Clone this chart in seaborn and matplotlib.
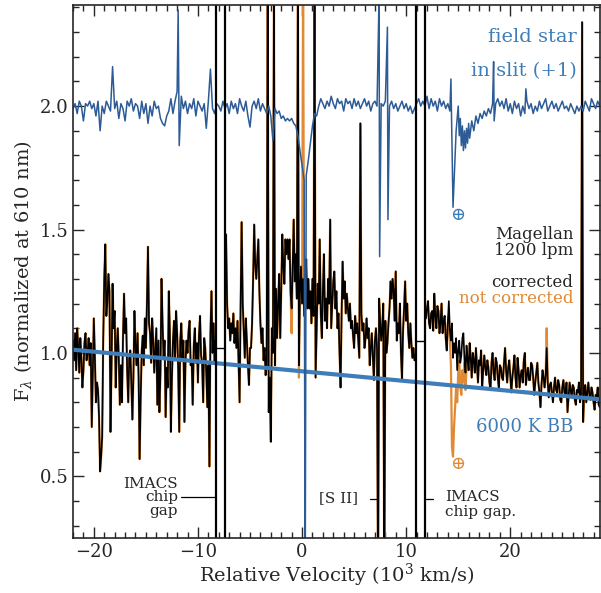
import matplotlib
matplotlib.use("Agg")
import matplotlib.pyplot as plt
import matplotlib.ticker as mticker
import seaborn as sns
import pandas as pd

# --- espectro corrigido (preto), em 10^3 km/s e fluxo normalizado ---
# trecho A: antes da primeira lacuna do IMACS
vel_a = [-22.0, -21.9, -21.8, -21.7, -21.6, -21.5, -21.4, -21.3, -21.2, -21.1,
         -21.0, -20.9, -20.8, -20.7, -20.6, -20.5, -20.4, -20.3, -20.2, -20.1,
         -20.0, -19.9, -19.8, -19.7, -19.6, -19.5, -19.4, -19.3, -19.2, -19.1,
         -19.0, -18.9, -18.8, -18.7, -18.6, -18.5, -18.4, -18.3, -18.2, -18.1,
         -18.0, -17.9, -17.8, -17.7, -17.6, -17.5, -17.4, -17.3, -17.2, -17.1,
         -17.0, -16.9, -16.8, -16.7, -16.6, -16.5, -16.4, -16.3, -16.2, -16.1,
         -16.0, -15.9, -15.8, -15.7, -15.6, -15.5, -15.4, -15.3, -15.2, -15.1,
         -15.0, -14.9, -14.8, -14.7, -14.6, -14.5, -14.4, -14.3, -14.2, -14.1,
         -14.0, -13.9, -13.8, -13.7, -13.6, -13.5, -13.4, -13.3, -13.2, -13.1,
         -13.0, -12.9, -12.8, -12.7, -12.6, -12.5, -12.4, -12.3, -12.2, -12.1,
         -12.0, -11.9, -11.8, -11.7, -11.6, -11.5, -11.4, -11.3, -11.2, -11.1,
         -11.0, -10.9, -10.8, -10.7, -10.6, -10.5, -10.4, -10.3, -10.2, -10.1,
         -10.0, -9.9, -9.8, -9.7, -9.6, -9.5, -9.4, -9.3, -9.2, -9.1,
         -9.0, -8.9, -8.8, -8.7, -8.6, -8.5, -8.4, -8.3]
flux_a = [1.05, 0.97, 1.08, 0.93, 1.10, 1.02, 0.92, 1.06, 0.98, 0.86,
          0.93, 1.04, 1.08, 0.97, 1.00, 1.06, 0.95, 1.04, 0.70, 0.92,
          1.14, 0.98, 0.80, 0.88, 0.85, 0.74, 0.52, 0.58, 0.66, 1.05,
          1.30, 1.44, 1.15, 1.21, 1.32, 1.25, 0.68, 0.95, 1.28, 1.10,
          1.17, 0.86, 1.02, 1.10, 0.97, 0.79, 0.95, 0.80, 1.06, 1.24,
          1.08, 1.14, 0.93, 0.80, 0.98, 1.01, 0.88, 0.73, 0.90, 1.17,
          1.03, 0.95, 1.08, 0.90, 0.57, 0.82, 1.01, 1.07, 0.95, 1.14,
          1.02, 1.20, 1.43, 1.12, 1.08, 0.96, 1.14, 1.05, 0.92, 1.01,
          1.10, 0.79, 1.05, 0.76, 0.92, 1.30, 1.12, 0.98, 1.05, 0.74,
          0.94, 0.86, 1.25, 1.09, 0.68, 0.90, 1.05, 1.13, 0.97, 1.17,
          1.08, 0.94, 0.68, 1.05, 1.12, 0.98, 1.05, 0.72, 0.96, 1.05,
          1.00, 1.09, 1.13, 0.95, 0.97, 0.79, 1.03, 1.10, 0.96, 1.04,
          0.88, 1.07, 1.15, 0.99, 0.96, 0.80, 1.06, 1.02, 0.92, 0.78,
          0.95, 0.54, 1.08, 1.25, 1.00, 1.12, 0.96, 1.05]

# trecho B: entre as duas lacunas (inclui [S II] e raios cósmicos)
vel_b = [-7.3, -7.2, -7.1, -7.0, -6.9, -6.8, -6.7, -6.6, -6.5, -6.4,
         -6.3, -6.2, -6.1, -6.0, -5.9, -5.8, -5.7, -5.6, -5.5, -5.4,
         -5.3, -5.2, -5.1, -5.0, -4.9, -4.8, -4.7, -4.6, -4.5, -4.4,
         -4.3, -4.2, -4.1, -4.0, -3.9, -3.8, -3.7, -3.6, -3.5, -3.4,
         -3.3, -3.2, -3.1, -3.0, -2.9, -2.8, -2.7, -2.6, -2.5, -2.4,
         -2.3, -2.2, -2.1, -2.0, -1.9, -1.8, -1.7, -1.6, -1.5, -1.4,
         -1.3, -1.2, -1.1, -1.0, -0.9, -0.8, -0.7, -0.6, -0.5, -0.4,
         -0.3, -0.2, -0.1, 0.0, 0.1, 0.2, 0.3, 0.4, 0.5, 0.6,
         0.7, 0.8, 0.9, 1.0, 1.1, 1.2, 1.3, 1.4, 1.5, 1.6,
         1.7, 1.8, 1.9, 2.0, 2.1, 2.2, 2.3, 2.4, 2.5, 2.6,
         2.7, 2.8, 2.9, 3.0, 3.1, 3.2, 3.3, 3.4, 3.5, 3.6,
         3.7, 3.8, 3.9, 4.0, 4.1, 4.2, 4.3, 4.4, 4.5, 4.6,
         4.7, 4.8, 4.9, 5.0, 5.1, 5.2, 5.3, 5.4, 5.5, 5.6,
         5.7, 5.8, 5.9, 6.0, 6.1, 6.2, 6.3, 6.4, 6.5, 6.6,
         6.7, 6.8, 6.9, 7.0, 7.1, 7.2, 7.3, 7.4, 7.5, 7.6,
         7.7, 7.8, 7.9, 8.0, 8.1, 8.2, 8.3, 8.4, 8.5, 8.6,
         8.7, 8.8, 8.9, 9.0, 9.1, 9.2, 9.3, 9.4, 9.5, 9.6,
         9.7, 9.8, 9.9, 10.0, 10.1, 10.2, 10.3, 10.4, 10.5, 10.6,
         10.7, 10.8]
flux_b = [1.48, 1.20, 1.10, 1.14, 1.05, 1.12, 1.08, 1.16, 1.04, 1.10,
          1.02, 1.13, 0.96, 0.80, 1.20, 1.53, 1.20, 1.09, 0.98, 1.14,
          1.05, 0.95, 0.87, 1.02, 1.02, 1.12, 1.30, 1.52, 1.36, 1.30,
          1.38, 1.46, 1.25, 1.12, 1.04, 1.10, 0.97, 1.02, 0.91, 0.95,
          2.50, 0.76, 0.90, 0.64, 1.10, 1.00, 2.50, 0.95, 1.26, 1.06,
          1.20, 1.32, 1.06, 1.25, 1.48, 1.35, 1.28, 1.46, 1.40, 1.46,
          1.38, 1.46, 1.24, 1.18, 1.35, 1.54, 1.29, 1.40, 1.22, 2.50,
          0.95, 1.25, 1.35, 1.20, 1.30, 1.15, 1.28, 1.38, 1.18, 1.30,
          1.18, 1.25, 1.12, 1.30, 1.15, 2.50, 0.90, 1.10, 1.28, 1.20,
          1.46, 1.16, 1.06, 1.25, 1.40, 1.13, 1.22, 1.10, 1.30, 1.20,
          1.54, 1.10, 1.20, 1.29, 1.33, 1.18, 1.25, 1.10, 1.16, 1.00,
          0.86, 1.16, 1.37, 1.22, 1.29, 1.16, 1.24, 1.18, 1.13, 1.20,
          1.10, 1.13, 1.07, 1.02, 1.15, 1.08, 1.12, 1.05, 0.98, 1.93,
          1.16, 1.09, 1.12, 1.02, 1.06, 1.14, 1.06, 1.10, 0.95, 1.02,
          1.08, 0.98, 0.89, 1.05, 1.10, 1.02, 0.00, 1.22, 1.13, 1.05,
          1.10, 1.20, 0.00, 1.13, 1.00, 1.04, 1.12, 1.18, 1.29, 1.22,
          1.30, 1.25, 1.13, 1.33, 1.05, 1.12, 1.08, 1.20, 1.00, 0.89,
          1.09, 1.18, 1.29, 1.13, 1.20, 1.08, 1.02, 1.12, 1.04, 0.98,
          1.02, 0.97]

# trecho C: depois da segunda lacuna
vel_c = [11.9, 12.0, 12.1, 12.2, 12.3, 12.4, 12.5, 12.6, 12.7, 12.8,
         12.9, 13.0, 13.1, 13.2, 13.3, 13.4, 13.5, 13.6, 13.7, 13.8,
         13.9, 14.0, 14.1, 14.2, 14.3, 14.4, 14.5, 14.6, 14.7, 14.8,
         14.9, 15.0, 15.1, 15.2, 15.3, 15.4, 15.5, 15.6, 15.7, 15.8,
         15.9, 16.0, 16.1, 16.2, 16.3, 16.4, 16.5, 16.6, 16.7, 16.8,
         16.9, 17.0, 17.1, 17.2, 17.3, 17.4, 17.5, 17.6, 17.7, 17.8,
         17.9, 18.0, 18.1, 18.2, 18.3, 18.4, 18.5, 18.6, 18.7, 18.8,
         18.9, 19.0, 19.1, 19.2, 19.3, 19.4, 19.5, 19.6, 19.7, 19.8,
         19.9, 20.0, 20.1, 20.2, 20.3, 20.4, 20.5, 20.6, 20.7, 20.8,
         20.9, 21.0, 21.1, 21.2, 21.3, 21.4, 21.5, 21.6, 21.7, 21.8,
         21.9, 22.0, 22.1, 22.2, 22.3, 22.4, 22.5, 22.6, 22.7, 22.8,
         22.9, 23.0, 23.1, 23.2, 23.3, 23.4, 23.5, 23.6, 23.7, 23.8,
         23.9, 24.0, 24.1, 24.2, 24.3, 24.4, 24.5, 24.6, 24.7, 24.8,
         24.9, 25.0, 25.1, 25.2, 25.3, 25.4, 25.5, 25.6, 25.7, 25.8,
         25.9, 26.0, 26.1, 26.2, 26.3, 26.4, 26.5, 26.6, 26.7, 26.8,
         26.9, 27.0, 27.1, 27.2, 27.3, 27.4, 27.5, 27.6, 27.7, 27.8,
         27.9, 28.0, 28.1, 28.2, 28.3, 28.4, 28.5, 28.6]
flux_c = [1.14, 1.18, 1.21, 1.12, 1.10, 1.16, 1.17, 1.09, 1.24, 1.15,
          1.10, 1.19, 1.17, 1.08, 1.12, 1.20, 1.08, 1.13, 1.15, 1.06,
          1.01, 1.12, 1.21, 1.09, 1.05, 1.12, 0.98, 1.04, 1.00, 1.06,
          0.93, 1.01, 1.05, 0.96, 0.99, 1.06, 1.08, 0.97, 0.92, 1.03,
          0.97, 0.93, 1.04, 0.98, 0.90, 1.00, 0.97, 0.92, 1.02, 0.95,
          0.88, 0.97, 0.95, 1.01, 0.86, 0.93, 0.99, 0.94, 0.91, 0.97,
          0.94, 0.88, 0.85, 0.96, 1.00, 0.92, 0.89, 0.98, 0.96, 0.90,
          0.86, 0.95, 0.94, 0.90, 0.89, 0.96, 1.02, 0.93, 0.88, 0.94,
          0.97, 0.91, 0.84, 0.90, 0.94, 0.99, 0.90, 0.86, 0.98, 0.93,
          0.86, 0.91, 0.93, 0.88, 0.97, 1.00, 0.87, 0.91, 0.94, 0.89,
          0.89, 0.96, 0.95, 0.90, 0.83, 0.88, 0.92, 0.96, 0.88, 0.84,
          0.78, 0.87, 0.93, 0.90, 0.86, 0.91, 1.02, 0.88, 0.82, 0.87,
          0.88, 0.84, 0.80, 0.86, 0.90, 0.85, 0.84, 0.89, 0.87, 0.81,
          0.80, 0.86, 0.89, 0.84, 0.83, 0.88, 0.76, 0.82, 0.88, 0.85,
          0.82, 0.87, 0.86, 0.81, 0.79, 0.85, 0.84, 0.88, 0.80, 0.83,
          2.34, 0.72, 0.85, 0.87, 0.80, 0.84, 0.88, 0.83, 0.81, 0.86,
          0.84, 0.80, 0.77, 0.83, 0.82, 0.86, 0.79, 0.78]

# onde o espectro sem correção telúrica (laranja) difere do corrigido
tell_vel = [-1.0, -0.3, 0.1, 14.1, 14.2, 14.3, 14.4, 14.5, 14.6, 14.7,
            14.8, 14.9, 15.0, 15.1, 15.2, 15.3, 15.4, 15.5, 15.6, 15.7,
            15.8, 23.5]
tell_flux = [1.08, 0.90, 2.50, 1.15, 1.05, 0.95, 0.62, 0.58, 0.70, 0.78,
             0.86, 0.80, 0.92, 0.97, 0.86, 0.83, 0.93, 0.88, 0.96, 0.85,
             0.94, 1.10]

# --- estrela de campo na fenda (deslocada +1) ---
star_vel = [-22.0, -21.8, -21.6, -21.4, -21.2, -21.0, -20.8, -20.6, -20.4, -20.2,
            -20.0, -19.8, -19.6, -19.4, -19.2, -19.0, -18.8, -18.6, -18.4, -18.2,
            -18.0, -17.8, -17.6, -17.4, -17.2, -17.0, -16.8, -16.6, -16.4, -16.2,
            -16.0, -15.8, -15.6, -15.4, -15.2, -15.0, -14.8, -14.6, -14.4, -14.2,
            -14.0, -13.8, -13.6, -13.4, -13.2, -13.0, -12.8, -12.6, -12.4, -12.2,
            -12.0, -11.9, -11.8, -11.6, -11.4, -11.2, -11.0, -10.8, -10.6, -10.4,
            -10.2, -10.0, -9.8, -9.6, -9.4, -9.2, -9.0, -8.8, -8.6, -8.4,
            -8.2, -8.0, -7.8, -7.6, -7.4, -7.2, -7.0, -6.8, -6.6, -6.4,
            -6.2, -6.0, -5.8, -5.6, -5.4, -5.2, -5.0, -4.8, -4.6, -4.4,
            -4.2, -4.0, -3.8, -3.6, -3.4, -3.2, -3.0, -2.8, -2.6, -2.4,
            -2.2, -2.0, -1.8, -1.6, -1.4, -1.2, -1.0, -0.8, -0.6, -0.4,
            -0.2, 0.0, 0.2, 0.3, 0.4, 0.6, 0.8, 1.0, 1.2, 1.4,
            1.6, 1.8, 2.0, 2.2, 2.4, 2.6, 2.8, 3.0, 3.2, 3.4,
            3.6, 3.8, 4.0, 4.2, 4.4, 4.6, 4.8, 5.0, 5.2, 5.4,
            5.6, 5.8, 6.0, 6.2, 6.4, 6.6, 6.8, 7.0, 7.2, 7.4,
            7.45, 7.6, 7.8, 8.0, 8.2, 8.25, 8.4, 8.6, 8.8, 9.0,
            9.2, 9.4, 9.6, 9.8, 10.0, 10.2, 10.4, 10.6, 10.8, 11.0,
            11.2, 11.4, 11.6, 11.8, 12.0, 12.2, 12.4, 12.6, 12.8, 13.0,
            13.2, 13.4, 13.6, 13.8, 14.0, 14.2, 14.3, 14.5, 14.8, 15.0,
            15.1, 15.2, 15.3, 15.4, 15.5, 15.6, 15.7, 15.8, 15.9, 16.0,
            16.1, 16.3, 16.5, 16.7, 16.9, 17.1, 17.3, 17.5, 17.7, 17.9,
            18.1, 18.3, 18.4, 18.45, 18.6, 18.8, 19.0, 19.2, 19.4, 19.6,
            19.8, 20.0, 20.2, 20.4, 20.6, 20.8, 21.0, 21.2, 21.4, 21.5,
            21.6, 21.8, 22.0, 22.2, 22.4, 22.6, 22.8, 23.0, 23.2, 23.4,
            23.6, 23.8, 24.0, 24.2, 24.4, 24.6, 24.8, 25.0, 25.2, 25.4,
            25.6, 25.8, 26.0, 26.2, 26.4, 26.6, 26.8, 27.0, 27.2, 27.4,
            27.6, 27.8, 28.0, 28.2, 28.4, 28.6]
star_flux = [1.99, 2.01, 1.97, 2.02, 2.00, 1.94, 2.01, 2.00, 2.02, 1.99,
             2.01, 1.96, 2.02, 1.90, 2.00, 1.97, 2.02, 2.00, 1.98, 2.16,
             1.99, 2.02, 1.95, 2.01, 1.99, 1.94, 2.02, 2.00, 2.03, 1.98,
             2.01, 2.00, 1.95, 2.02, 1.97, 2.01, 1.93, 2.00, 1.96, 2.02,
             1.99, 2.00, 1.95, 1.93, 1.92, 1.96, 1.98, 2.03, 1.97, 2.02,
             2.06, 2.39, 1.84, 2.04, 1.99, 2.02, 1.97, 2.01, 1.99, 2.03,
             1.96, 2.02, 2.00, 1.98, 2.01, 1.91, 2.02, 2.15, 1.99, 1.97,
             2.01, 2.00, 1.98, 2.02, 1.99, 2.01, 1.97, 2.02, 1.99, 2.01,
             1.97, 2.03, 2.00, 1.98, 2.02, 1.96, 1.915, 2.00, 2.02, 1.99,
             2.03, 1.98, 2.01, 1.99, 1.97, 2.00, 1.96, 1.86, 1.99, 1.97,
             1.98, 1.95, 1.96, 1.94, 1.95, 1.94, 1.95, 1.93, 1.92, 1.88,
             1.82, 1.76, 1.70, 0.00, 1.72, 1.78, 1.85, 1.92, 1.97, 1.96,
             2.00, 2.03, 2.01, 1.99, 2.02, 2.00, 2.04, 2.01, 1.99, 2.03,
             2.01, 2.02, 1.98, 2.03, 2.01, 2.02, 1.99, 2.03, 2.00, 2.02,
             1.99, 2.01, 2.03, 2.00, 2.02, 1.98, 2.01, 2.02, 2.00, 2.45,
             1.39, 2.01, 2.00, 2.02, 2.32, 1.54, 2.00, 2.02, 1.99, 2.01,
             1.98, 2.00, 2.02, 1.99, 2.01, 1.98, 2.00, 1.97, 1.99, 2.01,
             2.03, 2.00, 2.02, 2.00, 2.04, 1.99, 2.03, 2.00, 2.02, 1.98,
             2.03, 2.00, 2.02, 1.99, 2.01, 1.98, 2.11, 1.59, 1.90, 2.00,
             1.88, 1.95, 1.84, 1.92, 1.82, 1.90, 1.83, 1.91, 1.85, 1.93,
             1.87, 1.94, 1.90, 1.96, 1.93, 1.97, 1.95, 1.98, 1.96, 1.99,
             1.97, 2.01, 2.18, 1.94, 2.01, 2.03, 2.00, 2.02, 1.99, 2.03,
             1.98, 2.01, 1.97, 2.02, 1.99, 2.01, 1.96, 2.00, 1.97, 2.07,
             2.02, 1.99, 2.01, 1.97, 2.00, 1.98, 2.02, 1.99, 2.01, 2.03,
             1.98, 2.00, 2.02, 1.99, 2.01, 1.98, 2.00, 2.02, 1.99, 2.00,
             1.98, 2.01, 1.99, 1.97, 2.00, 1.98, 2.00, 1.98, 2.02, 2.00,
             1.98, 2.03, 2.01, 1.99, 2.02, 2.00]

# corpo negro 6000 K (quase uma reta neste intervalo)
bb_vel = [-22.0, 28.6]
bb_flux = [1.013, 0.812]

# lacunas entre chips do IMACS: (borda esq., borda dir., altura do traço)
gap_edges = [(-8.27, -7.40, 1.02), (10.96, 11.83, 1.05)]

BLUE_STAR = "#2d5b95"
BLUE_BB = "#3f7db8"
ORANGE = "#e08a35"

spec = pd.DataFrame({"vel": vel_a + vel_b + vel_c, "flux": flux_a + flux_b + flux_c})
spec["seg"] = [0] * len(vel_a) + [1] * len(vel_b) + [2] * len(vel_c)
tell = dict(zip(tell_vel, tell_flux))
spec["flux_raw"] = [tell.get(v, f) for v, f in zip(spec["vel"], spec["flux"])]
star = pd.DataFrame({"vel": star_vel, "flux": star_flux})

sns.set_style("ticks")
plt.rcParams["font.family"] = ["DejaVu Serif", "DejaVu Sans"]
plt.rcParams["mathtext.fontset"] = "dejavuserif"

fig = plt.figure(figsize=(6.01, 5.93), dpi=100)
ax = fig.add_axes([0.1215, 0.0927, 0.8765, 0.899])

for s in range(3):
    d = spec[spec["seg"] == s]
    sns.lineplot(data=d, x="vel", y="flux_raw", ax=ax, color=ORANGE, lw=1.6,
                 sort=False, estimator=None)
    sns.lineplot(data=d, x="vel", y="flux", ax=ax, color="black", lw=1.2,
                 sort=False, estimator=None)

sns.lineplot(x=bb_vel, y=bb_flux, ax=ax, color=BLUE_BB, lw=3.0, sort=False, estimator=None)
sns.lineplot(data=star, x="vel", y="flux", ax=ax, color=BLUE_STAR, lw=1.1,
             sort=False, estimator=None)

for x0, x1, yh in gap_edges:
    ax.axvline(x0, color="black", lw=1.6)
    ax.axvline(x1, color="black", lw=1.6)
    ax.plot([x0, x1], [yh, yh], color="black", lw=1.0)

# anotações
fs = 11
ax.text(-11.9, 0.415, "IMACS\nchip\ngap", ha="right", va="center", fontsize=fs,
        linespacing=0.95)
ax.plot([-11.6, -8.27], [0.415, 0.415], color="black", lw=0.9)
ax.text(5.4, 0.41, "[S II]", ha="right", va="center", fontsize=fs)
ax.plot([6.5, 7.2], [0.41, 0.41], color="black", lw=0.9)
ax.plot([11.9, 12.6], [0.41, 0.41], color="black", lw=0.9)
ax.text(13.75, 0.415, "IMACS", ha="left", va="center", fontsize=fs)
ax.text(13.75, 0.355, "chip gap.", ha="left", va="center", fontsize=fs)

ax.text(26.4, 2.28, "field star", ha="right", va="center", fontsize=14, color=BLUE_BB)
ax.text(26.4, 2.14, "in slit (+1)", ha="right", va="center", fontsize=14, color=BLUE_BB)
ax.text(26.05, 1.48, "Magellan", ha="right", va="center", fontsize=12)
ax.text(26.05, 1.415, "1200 lpm", ha="right", va="center", fontsize=12)
ax.text(26.05, 1.285, "corrected", ha="right", va="center", fontsize=12)
ax.text(26.05, 1.22, "not corrected", ha="right", va="center", fontsize=12, color=ORANGE)
ax.text(26.05, 0.70, "6000 K BB", ha="right", va="center", fontsize=13, color=BLUE_BB)
ax.text(14.9, 1.56, "\u2295", ha="center", va="center", fontsize=13, color=BLUE_BB)
ax.text(14.9, 0.55, "\u2295", ha="center", va="center", fontsize=13, color=ORANGE)

ax.set_xlim(-22.0, 28.6)
ax.set_ylim(0.25, 2.41)
ax.set_xlabel("Relative Velocity (10$^3$ km/s)", fontsize=14, labelpad=1)
ax.set_ylabel("F$_\\lambda$ (normalized at 610 nm)", fontsize=14, labelpad=4)
ax.xaxis.set_major_locator(mticker.MultipleLocator(10))
ax.xaxis.set_minor_locator(mticker.MultipleLocator(1))
ax.yaxis.set_major_locator(mticker.MultipleLocator(0.5))
ax.yaxis.set_minor_locator(mticker.MultipleLocator(0.1))
ax.yaxis.set_major_formatter(mticker.FormatStrFormatter("%.1f"))
ax.tick_params(which="both", direction="in", top=True, right=True, labelsize=13, width=1.0)
ax.tick_params(which="major", length=8)
ax.tick_params(which="minor", length=4)
for sp in ax.spines.values():
    sp.set_linewidth(1.2)

fig.savefig("out.png", dpi=100)
